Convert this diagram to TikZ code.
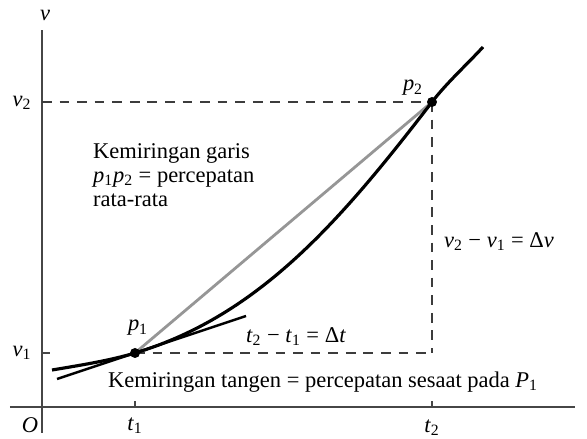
\documentclass[tikz,border=0pt]{standalone}
\usepackage{fontspec}
\setmainfont{Liberation Serif}
\usepackage{tikz}
\usetikzlibrary{positioning, calc}
\definecolor{axisgray}{RGB}{70,70,70}
\definecolor{chordgray}{RGB}{150,150,150}
\definecolor{dashgray}{RGB}{60,60,60}
\newcommand{\vr}[2]{\textit{#1}\textsubscript{#2}}
\tikzset{
  axisline/.style={line width=1.1pt, color=axisgray},
  guide/.style={line width=0.9pt, color=dashgray, dash pattern=on 5.5pt off 4.5pt},
  curveline/.style={line width=1.8pt, color=black},
  tanline/.style={line width=1.4pt, color=black},
  chord/.style={line width=1.6pt, color=chordgray},
  dot/.style={circle, fill=black, inner sep=0pt, minimum size=0.2cm},
  lbl/.style={font=\fontsize{12.8}{13.5}\selectfont, inner sep=1pt}
}
\begin{document}
\begin{tikzpicture}[x=1cm, y=1cm]
  \useasboundingbox (-0.84,-0.64) rectangle (10.9,8.14);
  \coordinate (O) at (0,0);
  \coordinate (xa) at (-0.64,0);
  \coordinate (xb) at (10.66,0);
  \coordinate (ya) at (0,-0.52);
  \coordinate (yb) at (0,7.54);
  \coordinate (p1) at (1.86,1.08);
  \coordinate (p2) at (7.8,6.1);
  \coordinate (v1) at (0,1.08);
  \coordinate (v2) at (0,6.1);
  \coordinate (t1) at (1.86,0);
  \coordinate (t2) at (7.8,0);
  \coordinate (corner) at (7.8,1.08);
  \coordinate (tana) at (0.3,0.56);
  \coordinate (tanb) at (4.08,1.82);
  \coordinate (ca) at (0.2,0.74);
  \coordinate (cb) at (8.82,7.2);

  % Axes and ticks
  \draw[axisline] (xa) -- (xb);
  \draw[axisline] (ya) -- (yb);
  \draw[axisline] (v1) -- ++(0.16,0);
  \draw[axisline] (t1) -- ++(0,0.12);
  \draw[axisline] (t2) -- ++(0,0.12);

  % Guides
  \draw[guide] (v2) -- (p2);
  \draw[guide] (p2) -- (corner);
  \draw[guide] (p1) -- (corner);

  % Chord, tangent, curve
  \draw[chord] (p1) -- (p2);
  \draw[tanline] (tana) -- (tanb);
  \draw[curveline] (ca) .. controls (0.8,0.84) and (1.36,0.93) .. (p1)
    .. controls (4.36,1.83) and (6.0,3.76) .. (p2)
    .. controls (8.1,6.49) and (8.5,6.85) .. (cb);
  \node[dot] (d1) at (p1) {};
  \node[dot] (d2) at (p2) {};

  % Labels
  \node[lbl] (vlab) at (0.06,7.84) {\textit{v}};
  \node[lbl] (olab) at (-0.24,-0.36) {\textit{O}};
  \node[lbl] (t1lab) at (1.86,-0.38) {\vr{t}{1}};
  \node[lbl] (t2lab) at (7.8,-0.42) {\vr{t}{2}};
  \node[lbl] (v1lab) at (-0.4,1.08) {\vr{v}{1}};
  \node[lbl] (v2lab) at (-0.4,6.08) {\vr{v}{2}};
  \node[lbl] (p1lab) at (1.92,1.58) {\vr{p}{1}};
  \node[lbl] (p2lab) at (7.42,6.38) {\vr{p}{2}};
  \node[lbl, anchor=north west, align=left] (slope) at (0.98,5.3)
    {Kemiringan garis\\\vr{p}{1}\vr{p}{2} = percepatan\\rata-rata};
  \node[lbl, anchor=west] (dv) at (8.0,3.3) {\vr{v}{2} − \vr{v}{1} = Δ\textit{v}};
  \node[lbl] (dt) at (5.08,1.4) {\vr{t}{2} − \vr{t}{1} = Δ\textit{t}};
  \node[lbl, anchor=west] (tang) at (1.28,0.5)
    {Kemiringan tangen = percepatan sesaat pada \vr{P}{1}};
\end{tikzpicture}
\end{document}
